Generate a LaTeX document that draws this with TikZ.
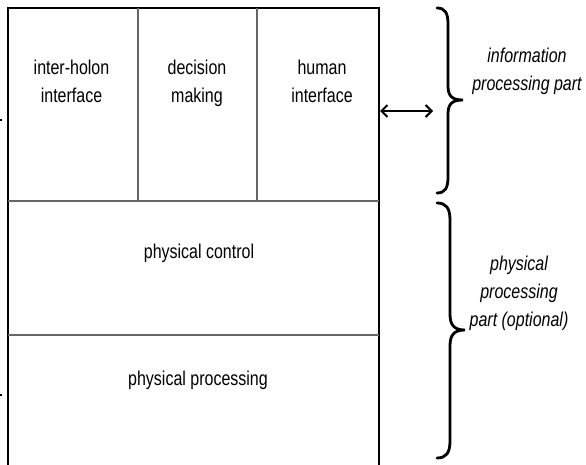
\documentclass[tikz,border=0pt]{standalone}
\usepackage{fontspec}
\setmainfont[FakeStretch=0.8]{Liberation Sans}
\usetikzlibrary{arrows.meta}

\begin{document}
\begin{tikzpicture}[x=1pt,y=-1pt,
  outer/.style={line width=2.2pt,black,line join=miter},
  inner/.style={line width=1.1pt,black!60},
  bracestyle/.style={line width=2.8pt,black,line cap=round},
  label/.style={inner sep=0pt,anchor=base,font=\fontsize{20}{28}\selectfont},
  sidelabel/.style={label,font=\fontsize{20}{28}\selectfont\itshape}
]
\useasboundingbox (0,0) rectangle (586,465);

% holon frame, open at the bottom
\draw[outer] (8,465) -- (8,8) -- (379,8) -- (379,465);
% layer separators and the three information cells
\draw[inner] (8,201) -- (379,201);
\draw[inner] (8,335) -- (379,335);
\draw[inner] (138,8) -- (138,201);
\draw[inner] (257,8) -- (257,201);

% small marks on the left margin
\fill (0,119) rectangle (2,121);
\fill (0,394) rectangle (2,396);

% cell labels
\node[label] (ihi) at (71.5,75) {\begin{tabular}[t]{@{}c@{}}inter-holon\\interface\end{tabular}};
\node[label] (dm) at (197,75) {\begin{tabular}[t]{@{}c@{}}decision\\making\end{tabular}};
\node[label] (hi) at (322,75) {\begin{tabular}[t]{@{}c@{}}human\\interface\end{tabular}};
\node[label] (pc) at (199,258) {physical control};
\node[label] (pp) at (198,385) {physical processing};

% interface arrow
\coordinate (arrL) at (380,111);
\coordinate (arrR) at (433,111);
\draw[line width=2pt,{Straight Barb[length=6pt,width=12pt]}-{Straight Barb[length=6pt,width=12pt]}] (arrL) -- (arrR);

% curly braces
\draw[bracestyle] (437,8) .. controls (445,8) and (448,13) .. (448,24)
  -- (448,86) .. controls (448,96) and (452,100) .. (463,100)
  .. controls (452,100) and (448,104) .. (448,114)
  -- (448,177) .. controls (448,188) and (445,193) .. (437,193);
\draw[bracestyle] (437,203) .. controls (446,203) and (450,208) .. (450,220)
  -- (450,314) .. controls (450,325) and (454,330) .. (465,330)
  .. controls (454,330) and (450,335) .. (450,346)
  -- (450,441) .. controls (450,453) and (446,458) .. (437,458);

% part labels
\node[sidelabel] (ipp) at (527,63) {\begin{tabular}[t]{@{}c@{}}information\\processing part\end{tabular}};
\node[sidelabel] (ppp) at (519,270) {\begin{tabular}[t]{@{}c@{}}physical\\processing\\part (optional)\end{tabular}};
\end{tikzpicture}
\end{document}
